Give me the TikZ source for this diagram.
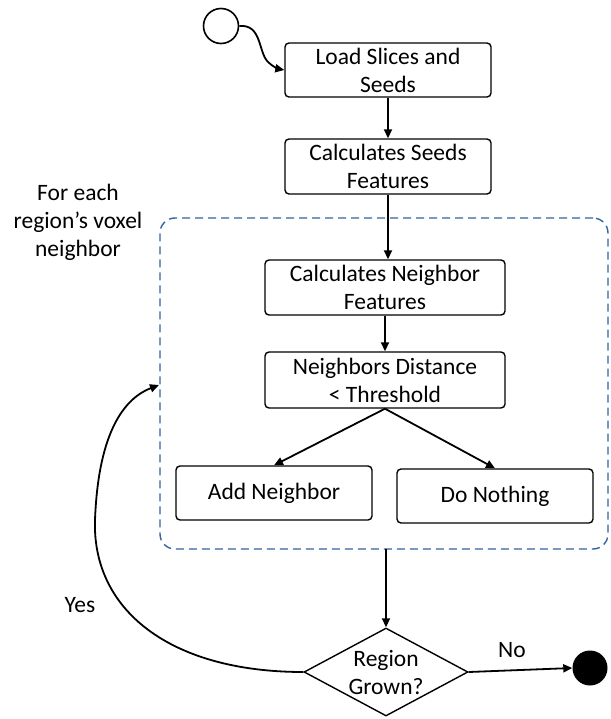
\documentclass[tikz,border=0pt]{standalone}
\usepackage{fontspec}
\setmainfont{Carlito}
\usetikzlibrary{shapes.geometric,arrows.meta}
\definecolor{dashblue}{RGB}{52,98,158}
\begin{document}
\begin{tikzpicture}[x=1pt,y=-1pt,
  every node/.style={font=\fontsize{23.5}{28}\selectfont},
  box/.style={draw,line width=1.4pt,rounded corners=4pt,align=center,inner sep=0pt},
  arr/.style={line width=1.8pt,-{Triangle[length=9pt,width=8pt]}}]
\useasboundingbox (0,0) rectangle (610,719);
% start / end
\node[circle,draw,line width=1.6pt,minimum size=35pt,inner sep=0pt] (start) at (221,26) {};
\node[circle,fill=black,minimum size=35pt,inner sep=0pt] (end) at (590,668) {};
% boxes
\node[box,minimum width=206pt,minimum height=54pt] (b1) at (388,70) {Load Slices and\\Seeds};
\node[box,minimum width=206pt,minimum height=55pt] (b2) at (388,166.5) {Calculates Seeds\\Features};
\node[box,minimum width=240pt,minimum height=55pt] (b3) at (385,287.5) {Calculates Neighbor\\Features};
\node[box,minimum width=240pt,minimum height=56pt] (b4) at (385,380) {Neighbors Distance\\< Threshold};
\node[box,minimum width=196pt,minimum height=54pt] (add) at (274,493) {Add Neighbor};
\node[box,minimum width=196pt,minimum height=54pt] (nothing) at (495,496) {Do Nothing};
% dashed region
\node[draw=dashblue,line width=1.4pt,dash pattern=on 8pt off 5pt,rounded corners=15pt,
  minimum width=448pt,minimum height=331pt,inner sep=0pt] (region) at (384,383.5) {};
\node[align=center] (lbl) at (78,222) {For each\\region’s voxel\\neighbor};
% decision
\node[diamond,draw,line width=1.4pt,minimum width=164pt,minimum height=88pt,inner sep=0pt,
  label={[align=center,font=\fontsize{23.5}{28}\selectfont]center:Region\\Grown?}] (dec) at (386,672) {};
\node (yes) at (80,605) {Yes};
\node (no) at (512,650) {No};
% connectors
\draw[arr] (start.east) .. controls (262,24) and (258,52) .. (268,62) .. controls (273,67) and (279,69) .. (b1.west);
\draw[arr] (b1) -- (b2);
\draw[arr] (b2.south) -- (b2.south |- b3.north);
\draw[arr] (b3) -- (b4);
\draw[arr] (b4.south) -- (add.north);
\draw[arr] (b4.south) -- (nothing.north);
\coordinate (rb) at (386,549);
\draw[arr] (rb) -- (dec.north);
\draw[arr] (dec.east) -- (end.west);
\coordinate (rl) at (159,385);
\draw[arr] (dec.west) .. controls (170,672) and (92,610) .. (95,520) .. controls (98,440) and (120,400) .. (rl);
\end{tikzpicture}
\end{document}
